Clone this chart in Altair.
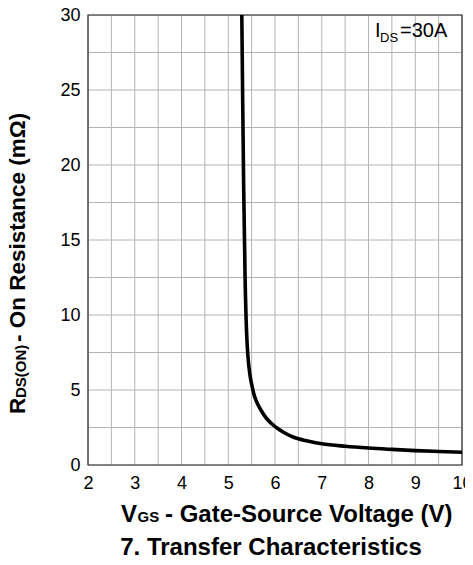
import altair as alt
import pandas as pd

# Curve
vgs = [5.29, 5.31, 5.33, 5.36, 5.39, 5.42, 5.46, 5.50, 5.56, 5.64, 5.72, 5.82, 5.93, 6.05, 6.2, 6.4, 6.7, 7.0, 7.5, 8.0, 8.5, 9.0, 9.5, 10.0]
rds = [30.0, 24.0, 18.5, 12.5, 9.0, 7.3, 6.1, 5.4, 4.6, 4.0, 3.55, 3.1, 2.75, 2.45, 2.15, 1.85, 1.6, 1.42, 1.25, 1.13, 1.04, 0.96, 0.9, 0.85]

x_ticks = [2, 3, 4, 5, 6, 7, 8, 9, 10]
y_ticks = [0, 5, 10, 15, 20, 25, 30]
x_grid = [2 + 0.5 * i for i in range(17)]
y_grid = [2.5 * i for i in range(13)]

df = pd.DataFrame({"vgs": vgs, "rds": rds})

W, H = 374, 450
FONT = "Liberation Sans"

xs = alt.Scale(domain=[2, 10], nice=False, zero=False)
ys = alt.Scale(domain=[0, 30], nice=False)

x_axis = alt.Axis(values=x_ticks, title=None, grid=False, ticks=False, domain=False,
                  labelFontSize=18, labelFont=FONT, labelColor="black", labelPadding=9,
                  labelFlush=False, labelOverlap=False)
y_axis = alt.Axis(values=y_ticks, title=None, grid=False, ticks=False, domain=False,
                  labelFontSize=18, labelFont=FONT, labelColor="black", labelPadding=8,
                  labelFlush=False, labelOverlap=False)

vgrid = alt.Chart(pd.DataFrame({"g": x_grid})).mark_rule(color="#b4b4b4", strokeWidth=1).encode(
    x=alt.X("g:Q", scale=xs, axis=x_axis))
hgrid = alt.Chart(pd.DataFrame({"g": y_grid})).mark_rule(color="#b4b4b4", strokeWidth=1).encode(
    y=alt.Y("g:Q", scale=ys, axis=y_axis))

line = alt.Chart(df).mark_line(color="black", strokeWidth=3.6, interpolate="monotone").encode(
    x=alt.X("vgs:Q", scale=xs, axis=x_axis),
    y=alt.Y("rds:Q", scale=ys, axis=y_axis),
    order="vgs:Q",
)

def txt(s, x, y, size, bold=True, align="left", angle=0, baseline="alphabetic"):
    kw = dict(fontSize=size, font=FONT, fontWeight="bold" if bold else "normal",
              align=align, baseline=baseline, color="black")
    if angle:
        kw["angle"] = angle
    return alt.Chart(pd.DataFrame({"t": [s]})).mark_text(**kw).encode(
        text="t:N", x=alt.value(x), y=alt.value(y))

# annotation I_DS=30A (coordinates relative to plot area origin at page (88,15))
ann = [
    txt("I", 287, 22, 20, bold=False),
    txt("DS", 292, 27, 13, bold=False),
    txt("=30A", 312, 22, 20, bold=False),
]

# x-axis title
xt = [
    txt("V", 33, H + 57, 24),
    txt("GS", 49.5, H + 57, 15),
    txt("- Gate-Source Voltage (V)", 77, H + 57, 24),
]
# chart caption
cap = [txt("7. Transfer Characteristics", 183, H + 90, 24, align="center")]

# y-axis title (rotated)
yt = [
    txt("R", -63, 399, 22.5, angle=270),
    txt("DS(ON)", -62, 383, 15, angle=270),
    txt("- On Resistance (mΩ)", -63, 327, 22.5, angle=270),
]

frame = alt.Chart(pd.DataFrame({"a": [0]})).mark_rect(fill=None, stroke="#333333", strokeWidth=1.2).encode(
    x=alt.value(0), x2=alt.value(W), y=alt.value(0), y2=alt.value(H))

chart = alt.layer(vgrid, hgrid, frame, line, *ann, *xt, *cap, *yt).properties(
    width=W, height=H,
    autosize=alt.AutoSizeParams(type="none"),
    padding={"left": 80, "top": 7, "right": 3, "bottom": 92},
).configure_view(stroke=None).configure(background="white")

chart.save("out.html", embed_options={"renderer": "svg", "actions": False})
